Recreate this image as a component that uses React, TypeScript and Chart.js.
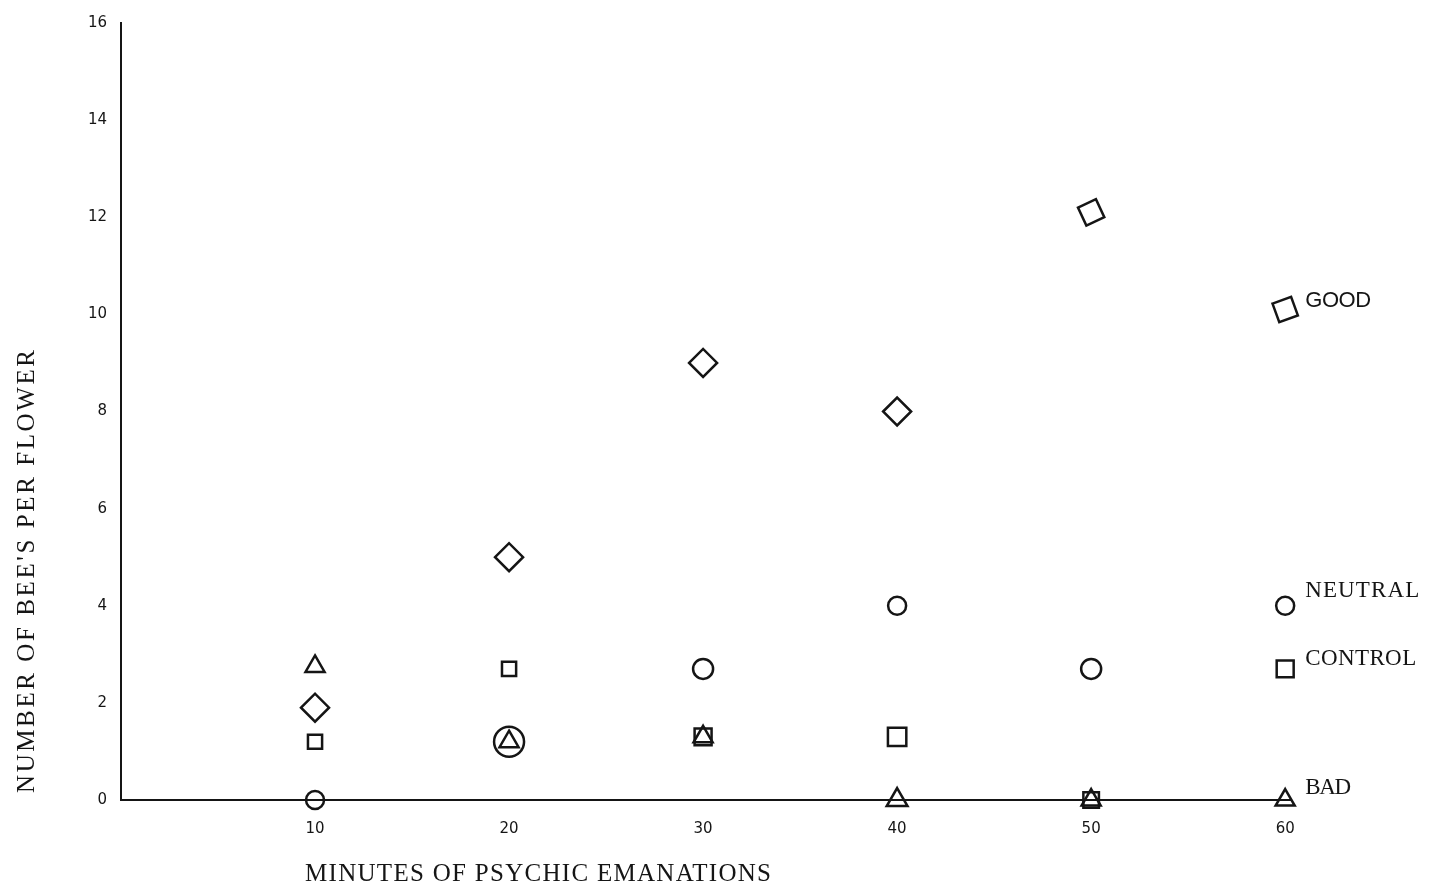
import React, { useEffect, useRef } from "react";
import { Chart, registerables } from "chart.js";

Chart.register(...registerables);

// ---- data ----
const minutes = [10, 20, 30, 40, 50, 60];
const good = [1.9, 5, 9, 8, 12.1, 10.1];
const neutral = [0, 1.2, 2.7, 4, 2.7, 4];
const control = [1.2, 2.7, 1.3, 1.3, 0, 2.7];
const bad = [2.75, 1.2, 1.3, 0, 0, 0];

const xTickValues = [10, 20, 30, 40, 50, 60];
const yTickValues = [0, 2, 4, 6, 8, 10, 12, 14, 16];
const seriesNames = ["GOOD", "NEUTRAL", "CONTROL", "BAD"];
const xTitle = "MINUTES OF PSYCHIC EMANATIONS";
const yTitle = "NUMBER OF BEE'S PER FLOWER";

const INK = "#151515";

const toPoints = (ys: number[]) => minutes.map((x, i) => ({ x, y: ys[i] }));

// typewriter-like text: serif face stretched to a target width with letter spacing
function drawSpaced(ctx: any, text: string, x: number, y: number, font: string, target: number) {
  ctx.font = font;
  ctx.letterSpacing = "0px";
  const w = ctx.measureText(text).width;
  const sp = (target - w) / Math.max(1, text.length - 1);
  ctx.letterSpacing = `${sp}px`;
  ctx.fillText(text, x, y);
  ctx.letterSpacing = "0px";
}

const labelStyles = [
  { font: "22px 'Liberation Sans'", dy: -9, width: 66 },
  { font: "23px 'Liberation Serif'", dy: -15, width: 114 },
  { font: "23px 'Liberation Serif'", dy: -10, width: 111 },
  { font: "23px 'Liberation Serif'", dy: -12, width: 46 },
];

const annotationPlugin = {
  id: "annotations",
  afterDraw(chart: any) {
    const { ctx, scales } = chart;
    const xs = scales.x;
    const ys = scales.y;
    ctx.save();
    ctx.fillStyle = INK;
    ctx.textAlign = "left";
    ctx.textBaseline = "middle";
    // x-axis title
    drawSpaced(ctx, xTitle, 305, 874, "25px 'Liberation Serif'", 466);
    // y-axis title
    ctx.save();
    ctx.translate(27, 793);
    ctx.rotate(-Math.PI / 2);
    drawSpaced(ctx, yTitle, 0, 0, "25px 'Liberation Serif'", 443);
    ctx.restore();
    // series labels next to the last point
    chart.data.datasets.forEach((ds: any, i: number) => {
      const last = ds.data[ds.data.length - 1];
      const st = labelStyles[i];
      drawSpaced(
        ctx,
        seriesNames[i],
        xs.getPixelForValue(last.x) + 20,
        ys.getPixelForValue(last.y) + st.dy,
        st.font,
        st.width
      );
    });
    ctx.restore();
  },
};

export default function App() {
  const ref = useRef<HTMLCanvasElement | null>(null);

  useEffect(() => {
    document.body.style.margin = "0";
    const canvas = ref.current;
    if (!canvas) return;
    const common = {
      borderColor: INK,
      backgroundColor: "rgba(0,0,0,0)",
      borderWidth: 2.5,
      showLine: false,
      clip: false as any,
    };
    const chart = new Chart(canvas, {
      type: "scatter",
      data: {
        datasets: [
          {
            label: seriesNames[0],
            data: toPoints(good),
            pointStyle: "rectRot",
            pointRadius: 14,
            pointRotation: [0, 0, 0, 0, 20, 25],
            ...common,
          },
          {
            label: seriesNames[1],
            data: toPoints(neutral),
            pointStyle: "circle",
            pointRadius: [9, 15, 10, 9, 10, 9],
            ...common,
          },
          {
            label: seriesNames[2],
            data: toPoints(control),
            pointStyle: "rect",
            pointRadius: [10, 10, 12, 13, 11, 12],
            ...common,
          },
          {
            label: seriesNames[3],
            data: toPoints(bad),
            pointStyle: "triangle",
            pointRadius: [11, 11, 11, 12, 11, 11],
            ...common,
          },
        ] as any,
      },
      options: {
        animation: false,
        responsive: false,
        maintainAspectRatio: false,
        layout: { padding: { top: 20, right: 147, left: 0, bottom: 0 } },
        plugins: {
          legend: { display: false },
          tooltip: { enabled: false },
          title: { display: false },
        },
        scales: {
          x: {
            type: "linear",
            min: 0,
            max: 60.3,
            afterBuildTicks: (s: any) => {
              s.ticks = xTickValues.map((v) => ({ value: v }));
            },
            afterFit: (s: any) => {
              s.height = 92;
            },
            grid: { display: false, drawTicks: false },
            border: { display: true, color: INK, width: 2 },
            ticks: {
              color: INK,
              font: { family: "'DejaVu Sans'", size: 15 },
              padding: 20,
              maxRotation: 0,
              autoSkip: false,
            },
          },
          y: {
            type: "linear",
            min: 0,
            max: 16,
            afterBuildTicks: (s: any) => {
              s.ticks = yTickValues.map((v) => ({ value: v }));
            },
            afterFit: (s: any) => {
              s.width = 121;
            },
            grid: { display: false, drawTicks: false },
            border: { display: true, color: INK, width: 2 },
            ticks: {
              color: INK,
              font: { family: "'DejaVu Sans'", size: 15 },
              padding: 14,
              autoSkip: false,
            },
          },
        },
      },
      plugins: [annotationPlugin],
    });
    return () => chart.destroy();
  }, []);

  return (
    <div style={{ position: "fixed", left: 0, top: 0, width: 1438, height: 892, background: "#fff" }}>
      <canvas ref={ref} width={1438} height={892} style={{ width: 1438, height: 892, display: "block" }} />
    </div>
  );
}
